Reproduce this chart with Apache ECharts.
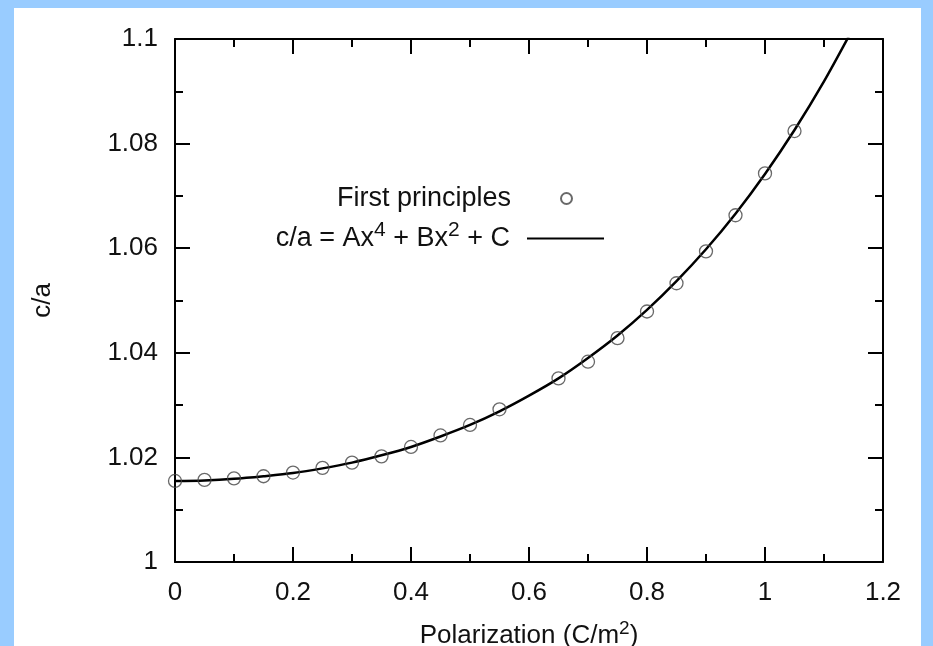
<!DOCTYPE html>
<html>
<head>
<meta charset="utf-8">
<title>c/a vs Polarization</title>
<script src="https://cdn.jsdelivr.net/npm/echarts@6/dist/echarts.min.js"></script>
<style>
    html, body { margin: 0; padding: 0; background: #99ccff; overflow: hidden; }
    #chart { position: absolute; left: 14px; top: 8px; width: 907px; height: 638px; background: #fff; }
</style>
</head>
<body>
<div id="chart"></div>
<script>
// First principles points
const pointX = [0, 0.05, 0.1, 0.15, 0.2, 0.25, 0.3, 0.35, 0.4, 0.45, 0.5, 0.55,
                0.65, 0.7, 0.75, 0.8, 0.85, 0.9, 0.95, 1.0, 1.05];
const pointY = [1.0155, 1.0157, 1.0160, 1.0164, 1.0171, 1.0180, 1.0190, 1.0202, 1.0220, 1.0242, 1.0262, 1.0292,
                1.0351, 1.0383, 1.0428, 1.0479, 1.0533, 1.0594, 1.0663, 1.0743, 1.0824];

// fitted curve c/a = Ax^4 + Bx^2 + C
const fitX = [0, 0.05, 0.1, 0.15, 0.2, 0.25, 0.3, 0.35, 0.4, 0.45, 0.5, 0.55, 0.6,
              0.65, 0.7, 0.75, 0.8, 0.85, 0.9, 0.95, 1.0, 1.05, 1.1, 1.15];
const fitY = [1.0155, 1.0156, 1.0159, 1.0164, 1.0170, 1.0179, 1.0190, 1.0204, 1.0220, 1.0240, 1.0262, 1.0288, 1.0318,
              1.0351, 1.0390, 1.0433, 1.0482, 1.0537, 1.0598, 1.0666, 1.0742, 1.0826, 1.0919, 1.1022];

// axis ranges
const xRange = [0, 1.2];
const xStep = 0.2;
const yRange = [1.0, 1.1];
const yStep = 0.02;

const pointName = 'First principles';
const fitName = 'c/a = Ax^4 + Bx^2 + C';

document.addEventListener('DOMContentLoaded', () => {
    initChart();
});

// one axis, with or without labels
function makeAxis(range, step, position, showLabel, labelMargin) {
    return {
        type: 'value',
        position: position,
        min: range[0],
        max: range[1],
        interval: step,
        axisLine: { onZero: false, lineStyle: { color: '#000', width: 2 } },
        axisTick: { inside: true, length: 15, lineStyle: { color: '#000', width: 2 } },
        minorTick: { show: true, splitNumber: 2, length: 8, lineStyle: { color: '#000', width: 2 } },
        splitLine: { show: false },
        axisLabel: {
            show: showLabel,
            fontFamily: 'Liberation Sans',
            fontSize: 26,
            color: '#111',
            margin: labelMargin || 14
        }
    };
}

function initChart() {
    const chart = echarts.init(document.getElementById('chart'));

    const xBottom = makeAxis(xRange, xStep, 'bottom', true, 18);
    xBottom.name = 'Polarization (C/m{sup|2})';
    xBottom.nameLocation = 'middle';
    xBottom.nameGap = 57;
    xBottom.nameTextStyle = {
        fontFamily: 'Liberation Sans', fontSize: 26, color: '#111',
        rich: { sup: { fontFamily: 'Liberation Sans', fontSize: 19, padding: [0, 0, 14, 0], color: '#111' } }
    };

    const yLeft = makeAxis(yRange, yStep, 'left', true, 17);
    yLeft.name = 'c/a';
    yLeft.nameLocation = 'middle';
    yLeft.nameGap = 119;
    yLeft.nameTextStyle = { fontFamily: 'Liberation Sans', fontSize: 26, color: '#111' };

    const legendText = {
        fontFamily: 'Liberation Sans',
        fontSize: 27,
        color: '#111',
        padding: [0, 12, 0, 0],
        rich: { sup: { fontFamily: 'Liberation Sans', fontSize: 21, padding: [0, 0, 16, 0], color: '#111' } }
    };

    chart.setOption({
        animation: false,
        grid: { left: 161, right: 38, top: 31, bottom: 84, outerBoundsMode: 'none' },
        legend: [
            {
                data: [pointName],
                right: 348,
                top: 177,
                padding: 0,
                align: 'right',
                itemWidth: 77,
                itemHeight: 11,
                textStyle: legendText
            },
            {
                data: [fitName],
                right: 316,
                top: 212,
                padding: 0,
                align: 'right',
                itemWidth: 77,
                itemHeight: 14,
                itemStyle: { opacity: 0 },
                textStyle: legendText,
                formatter: () => 'c/a = Ax{sup|4} + Bx{sup|2} + C'
            }
        ],
        xAxis: [xBottom, makeAxis(xRange, xStep, 'top', false)],
        yAxis: [yLeft, makeAxis(yRange, yStep, 'right', false)],
        series: [
            {
                name: fitName,
                type: 'line',
                data: fitX.map((x, i) => [x, fitY[i]]),
                smooth: 0.3,
                symbol: 'none',
                lineStyle: { color: '#000', width: 2.5 },
                itemStyle: { color: '#000' },
                z: 2
            },
            {
                name: pointName,
                type: 'scatter',
                data: pointX.map((x, i) => [x, pointY[i]]),
                symbol: 'circle',
                symbolSize: 13,
                itemStyle: { color: 'rgba(0,0,0,0)', borderColor: '#444', borderWidth: 1.3 },
                z: 3
            }
        ]
    });
}
</script>
</body>
</html>
